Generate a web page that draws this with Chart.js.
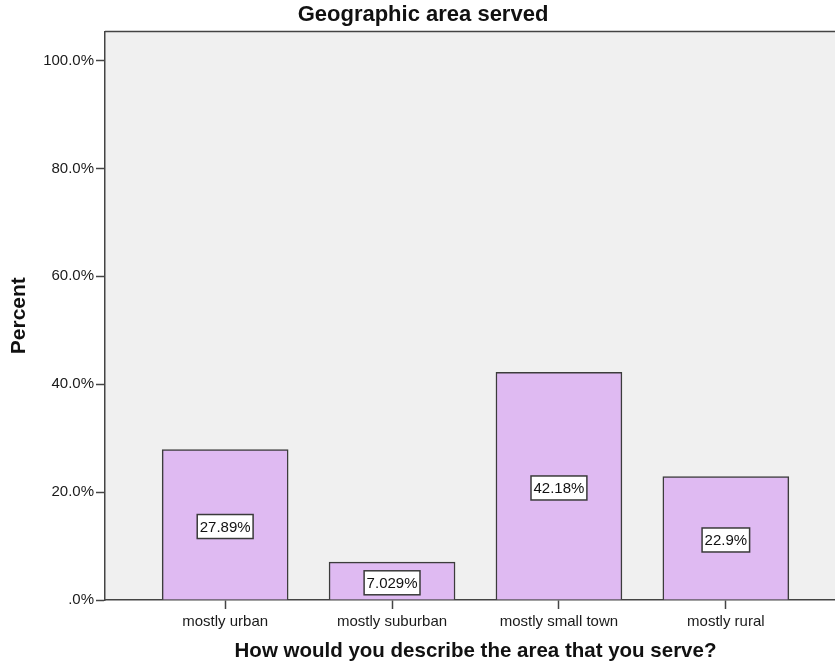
<!DOCTYPE html>
<html>
<head>
<meta charset="utf-8">
<title>Geographic area served</title>
<script src="https://cdn.jsdelivr.net/npm/chart.js@4/dist/chart.umd.min.js"></script>
<style>
  html, body { margin: 0; padding: 0; background: #fff; overflow: hidden; }
  #wrap { width: 846px; height: 664px; }
</style>
</head>
<body>
<div id="wrap"><canvas id="areaChart" width="846" height="664"></canvas></div>
<script>
/* ---- data ---- */
const categories = ['mostly urban', 'mostly suburban', 'mostly small town', 'mostly rural'];
const percents = [27.89, 7.029, 42.18, 22.9];
const yTickValues = [0, 20, 40, 60, 80, 100];
const yTickLabels = ['.0%', '20.0%', '40.0%', '60.0%', '80.0%', '100.0%'];

const FONT = '"Liberation Sans", Arial, sans-serif';
const BAR_FILL = '#dfbaf2';
const LINE = '#444444';

// grey plot background plus the frame line on top
const plotFrame = {
    id: 'plotFrame',
    beforeDraw(chart) {
        const { ctx, chartArea: a } = chart;
        ctx.save();
        ctx.fillStyle = '#f0f0f0';
        ctx.fillRect(a.left, a.top, a.right - a.left, a.bottom - a.top);
        ctx.strokeStyle = LINE;
        ctx.lineWidth = 1.5;
        ctx.beginPath();
        ctx.moveTo(a.left, a.top);
        ctx.lineTo(a.right, a.top);
        ctx.lineTo(a.right, a.bottom);
        ctx.stroke();
        ctx.restore();
    }
};

// boxed percentage label in the middle of each bar
const boxLabels = {
    id: 'boxLabels',
    afterDatasetsDraw(chart) {
        const { ctx } = chart;
        const meta = chart.getDatasetMeta(0);
        ctx.save();
        ctx.font = '15px ' + FONT;
        ctx.textAlign = 'center';
        ctx.textBaseline = 'middle';
        meta.data.forEach((bar, i) => {
            const text = percents[i] + '%';
            const cy = (bar.y + bar.base) / 2 + 2;
            const w = ctx.measureText(text).width + 5;
            const h = 24;
            ctx.fillStyle = '#ffffff';
            ctx.fillRect(bar.x - w / 2, cy - h / 2, w, h);
            ctx.strokeStyle = '#3a3a3a';
            ctx.lineWidth = 1.5;
            ctx.strokeRect(bar.x - w / 2, cy - h / 2, w, h);
            ctx.fillStyle = '#111111';
            ctx.fillText(text, bar.x, cy + 1);
        });
        ctx.restore();
    }
};

new Chart(document.getElementById('areaChart'), {
    type: 'bar',
    data: {
        datasets: [{
            data: percents.map((v, i) => ({ x: i + 1, y: v })),
            backgroundColor: BAR_FILL,
            borderColor: '#3c3c3c',
            borderWidth: 1.5,
            borderSkipped: 'bottom',
            barThickness: 126
        }]
    },
    options: {
        responsive: false,
        animation: false,
        events: [],
        layout: { padding: 0 },
        plugins: {
            legend: { display: false },
            tooltip: { enabled: false },
            title: {
                display: true,
                text: 'Geographic area served',
                color: '#111111',
                font: { family: FONT, size: 22, weight: 'bold' },
                padding: { top: 2, bottom: 3 }
            }
        },
        scales: {
            x: {
                type: 'linear',
                offset: false,
                min: 0.28,
                max: 4.72,
                afterBuildTicks: s => { s.ticks = categories.map((c, i) => ({ value: i + 1 })); },
                afterFit: s => { s.height = 64; },
                ticks: {
                    callback: v => categories[v - 1],
                    color: '#1a1a1a',
                    font: { family: FONT, size: 15 },
                    padding: 4,
                    maxRotation: 0,
                    autoSkip: false
                },
                grid: { offset: false, drawOnChartArea: false, drawTicks: true, tickLength: 9, tickColor: LINE, tickWidth: 1.5 },
                border: { display: true, color: LINE, width: 1.5 },
                title: {
                    display: true,
                    text: 'How would you describe the area that you serve?',
                    color: '#111111',
                    font: { family: FONT, size: 20.5, weight: 'bold' },
                    padding: 0
                }
            },
            y: {
                min: 0,
                max: 105.4,
                afterBuildTicks: s => { s.ticks = yTickValues.map(v => ({ value: v })); },
                afterFit: s => { s.width = 105; },
                ticks: {
                    callback: v => yTickLabels[yTickValues.indexOf(v)],
                    color: '#1a1a1a',
                    font: { family: FONT, size: 15 },
                    padding: 2
                },
                grid: { drawOnChartArea: false, drawTicks: true, tickLength: 9, tickColor: LINE, tickWidth: 1.5 },
                border: { display: true, color: LINE, width: 1.5 },
                title: {
                    display: true,
                    text: 'Percent',
                    color: '#111111',
                    font: { family: FONT, size: 21, weight: 'bold' },
                    padding: { top: 7, bottom: 0 }
                }
            }
        }
    },
    plugins: [plotFrame, boxLabels]
});
</script>
</body>
</html>
